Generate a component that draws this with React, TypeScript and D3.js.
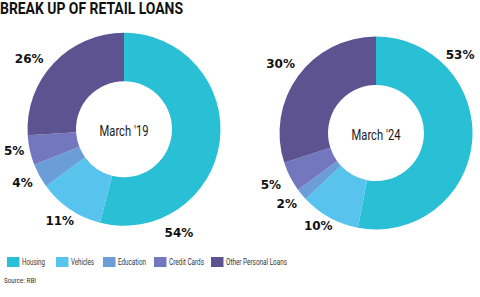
import React from "react";
import * as d3 from "d3";

const categories = ["Housing", "Vehicles", "Education", "Credit Cards", "Other Personal Loans"];
const colors = ["#29BFD4", "#58C4EE", "#6B9ED8", "#7378BE", "#5E5391"];
const values2019 = [54, 11, 4, 5, 26];
const values2024 = [53, 10, 2, 5, 30];
const chartTitles = ["March '19", "March '24"];
// label anchor angle (degrees, clockwise from 12 o'clock) per slice
const labelAngles2019 = [152, 215, 242, 259, 306.5];
const labelAngles2024 = [47, 212, 231.5, 244, 306];
const labelRadii2019 = [117, 112, 115, 112, 118];
const labelRadii2024 = [115, 109, 114, 117, 118];
const legendTextWidths = [23, 23, 28, 35, 61];
const legendX = [7, 56, 103, 154, 211];

const W = 480;
const H = 297;

function Donut({ values, title, cx, cy, angles, radii }: any) {
  const outer = 96.5;
  const inner = 48;
  const pie = d3.pie<number>().sort(null).value((d) => d)(values);
  const arc = d3.arc<d3.PieArcDatum<number>>().innerRadius(inner).outerRadius(outer);
  return (
    <g transform={`translate(${cx},${cy})`}>
      {pie.map((p, i) => (
        <path key={i} d={arc(p) as string} fill={colors[i]} />
      ))}
      {pie.map((p, i) => {
        const [x, y] = d3.pointRadial((angles[i] * Math.PI) / 180, radii[i]);
        return (
          <text
            key={"l" + i}
            x={x}
            y={y + 4.3}
            textAnchor="middle"
            fontFamily="'DejaVu Sans', sans-serif"
            fontWeight="bold"
            fontSize={12}
            fill="#111"
          >
            {values[i]}%
          </text>
        );
      })}
      <text
        x={0}
        y={6.5}
        textAnchor="middle"
        fontFamily="Roboto, sans-serif"
        fontSize={15}
        textLength={49}
        lengthAdjust="spacingAndGlyphs"
        fill="#1a1a1a"
      >
        {title}
      </text>
    </g>
  );
}

export default function App() {
  return (
    <svg
      width={W}
      height={H}
      style={{ position: "absolute", left: 0, top: 0, background: "#fff" }}
    >
      <rect width={W} height={H} fill="#fff" />
      <text
        x={0}
        y={13.5}
        fontFamily="Roboto, sans-serif"
        fontWeight="bold"
        fontSize={16}
        textLength={183}
        lengthAdjust="spacingAndGlyphs"
        fill="#111"
      >
        BREAK UP OF RETAIL LOANS
      </text>
      <Donut
        values={values2019}
        title={chartTitles[0]}
        cx={124}
        cy={129.2}
        angles={labelAngles2019}
        radii={labelRadii2019}
      />
      <Donut
        values={values2024}
        title={chartTitles[1]}
        cx={376}
        cy={133}
        angles={labelAngles2024}
        radii={labelRadii2024}
      />
      {categories.map((c, i) => (
        <g key={c}>
          <rect x={legendX[i]} y={257} width={12.5} height={10} fill={colors[i]} />
          <text
            x={legendX[i] + 15}
            y={264.8}
            fontFamily="Roboto, sans-serif"
            fontSize={8.8}
            textLength={legendTextWidths[i]}
            lengthAdjust="spacingAndGlyphs"
            fill="#333"
          >
            {c}
          </text>
        </g>
      ))}
      <text
        x={4}
        y={283}
        fontFamily="Roboto, sans-serif"
        fontSize={8}
        textLength={32}
        lengthAdjust="spacingAndGlyphs"
        fill="#333"
      >
        Source: RBI
      </text>
    </svg>
  );
}
